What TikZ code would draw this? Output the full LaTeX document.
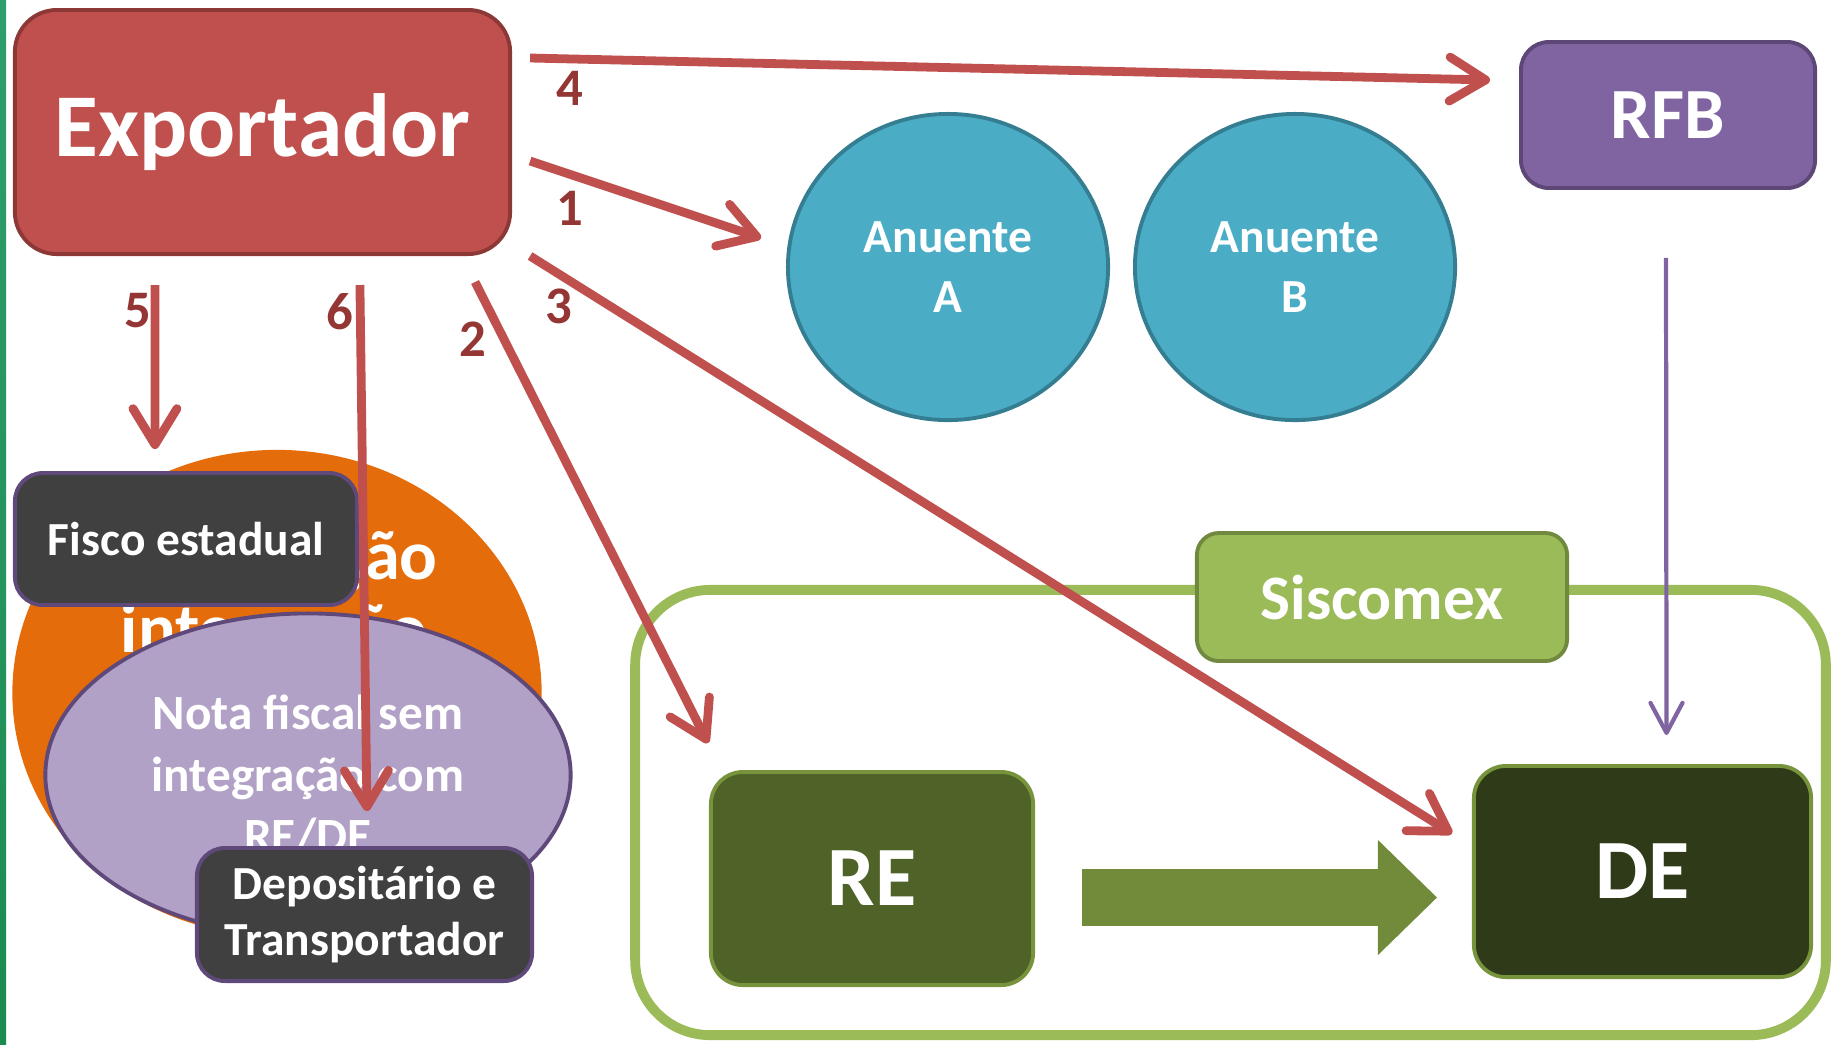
\documentclass[tikz,border=0pt]{standalone}
\usepackage{fontspec}
\setmainfont{Carlito}
\usepackage{xcolor}
\usepackage{tikz}
\usetikzlibrary{shapes.geometric,positioning,arrows.meta}

\definecolor{expred}{HTML}{C0504D}
\definecolor{expborder}{HTML}{8C3836}
\definecolor{numred}{HTML}{943634}
\definecolor{rfbpurple}{HTML}{8064A2}
\definecolor{rfbborder}{HTML}{5C4776}
\definecolor{anuteal}{HTML}{4BACC6}
\definecolor{anuborder}{HTML}{357D91}
\definecolor{siscgreen}{HTML}{9BBB59}
\definecolor{siscborder}{HTML}{71893F}
\definecolor{regreen}{HTML}{4F6228}
\definecolor{degreen}{HTML}{2F3A19}
\definecolor{boxborder}{HTML}{77933C}
\definecolor{fatgreen}{HTML}{718B3B}
\definecolor{nforange}{HTML}{E46C0A}
\definecolor{nflilac}{HTML}{B2A1C7}
\definecolor{nfborder}{HTML}{5F497A}
\definecolor{darkbox}{HTML}{404040}
\definecolor{stripetop}{HTML}{2E9E6C}
\definecolor{stripemid}{HTML}{D8BA4C}
\definecolor{stripebot}{HTML}{1B8C50}

\begin{document}
\begin{tikzpicture}[
    x=0.01cm, y=-0.01cm,
    box/.style={rectangle, rounded corners=#1, draw, line width=1.1pt, text=white, align=center, inner sep=0pt},
    box/.default=0.3cm,
    oval/.style={ellipse, draw, line width=1.1pt, text=white, align=center, inner sep=0pt},
    redarrow/.style={draw=expred, line width=2.5pt, -{Straight Barb[length=3.6mm, width=4.4mm, round]}},
    purplearrow/.style={draw=rfbpurple, line width=1.2pt, -{Straight Barb[length=3mm, width=3.2mm, round]}},
    fatarrow/.style={draw=fatgreen, line width=0.57cm, -{Triangle[length=0.59cm, width=1.15cm, line width=0pt]}},
    numlabel/.style={text=numred, font=\bfseries\fontsize{15}{18}\selectfont}
]
    \useasboundingbox (0,0) rectangle (1834,1044);
    \shade[top color=stripetop, middle color=stripemid, bottom color=stripebot] (0,0) rectangle (6,1044);

    % Siscomex
    \node[box=0.75cm, draw=siscgreen, line width=2.8pt, minimum width=11.9cm, minimum height=4.45cm] (siscomex) at (1230.5,812.5) {};
    \node[box=0.22cm, fill=siscgreen, draw=siscborder, minimum width=3.7cm, minimum height=1.28cm,
          font=\bfseries\fontsize{18}{22}\selectfont] (siscomexlabel) at (1382,597) {Siscomex};
    \node[box=0.32cm, fill=regreen, draw=boxborder, minimum width=3.22cm, minimum height=2.13cm,
          font=\bfseries\fontsize{24}{28}\selectfont] (re) at (872,878.5) {RE};
    \node[box=0.32cm, fill=degreen, draw=boxborder, minimum width=3.37cm, minimum height=2.11cm,
          font=\bfseries\fontsize{24}{28}\selectfont] (de) at (1642.5,871.5) {DE};
    \draw[fatarrow] ([shift={(47,19)}]re.east) -- ([shift={(-35,26)}]de.west);

    % orgaos
    \node[oval, fill=anuteal, draw=anuborder, minimum width=3.2cm, minimum height=3.06cm,
          font=\bfseries\fontsize{13.5}{17}\selectfont] (anuenteA) at (948,267) {Anuente\\A};
    \node[oval, fill=anuteal, draw=anuborder, minimum width=3.2cm, minimum height=3.06cm,
          font=\bfseries\fontsize{13.5}{17}\selectfont] (anuenteB) at (1295,267) {Anuente\\B};
    \node[box=0.28cm, fill=rfbpurple, draw=rfbborder, minimum width=2.94cm, minimum height=1.46cm,
          font=\bfseries\fontsize{20.5}{24}\selectfont] (rfb) at (1668,115) {RFB};
    \node[box=0.42cm, fill=expred, draw=expborder, minimum width=4.95cm, minimum height=2.44cm,
          font=\bfseries\fontsize{25.5}{30}\selectfont] (exportador) at (262.5,132) {Exportador};

    % nota fiscal
    \node[ellipse, fill=nforange, inner sep=0pt, minimum width=5.29cm, minimum height=4.86cm] (nfcom) at (277,693) {};
    \node[text=white, align=center, font=\bfseries\fontsize{20}{20.7}\selectfont] (nfcomtext) at (274,598) {Exportação\\integração};
    \node[box=0.28cm, fill=darkbox, draw=nfborder, minimum width=3.42cm, minimum height=1.32cm,
          font=\bfseries\fontsize{13.5}{16}\selectfont] (fisco) at (186,539) {Fisco estadual};
    \node[oval, fill=nflilac, draw=nfborder, minimum width=5.25cm, minimum height=3.23cm,
          font=\bfseries\fontsize{14}{17.5}\selectfont] (nfsem) at (308,775) {Nota fiscal sem\\integração com\\RE/DE};
    \node[box=0.28cm, fill=darkbox, draw=nfborder, minimum width=3.35cm, minimum height=1.33cm,
          font=\bfseries\fontsize{13.5}{16}\selectfont] (deposit) at (364.5,914.5) {Depositário e\\Transportador};

    % fluxos
    \coordinate (s4) at ([shift={(18,-74)}]exportador.east);
    \coordinate (e4) at ([shift={(-29,-35)}]rfb.west);
    \coordinate (s1) at ([shift={(18,29)}]exportador.east);
    \coordinate (e1) at ([shift={(-25,-29)}]anuenteA.west);
    \coordinate (s3) at ([shift={(18,0)}]exportador.south east);
    \coordinate (e3) at ([shift={(-20,-38)}]de.west);
    \coordinate (s2) at ([shift={(-37,26)}]exportador.south east);
    \coordinate (e2) at ([shift={(-1,-27)}]re.north west);
    \coordinate (s5) at ([shift={(142,29)}]exportador.south west);
    \coordinate (e5) at ([shift={(142,-22)}]fisco.north west);
    \coordinate (s6) at ([shift={(347,29)}]exportador.south west);
    \coordinate (e6) at ([shift={(59,36)}]nfsem.center);

    \foreach \from/\to in {s4/e4, s1/e1, s3/e3, s2/e2, s5/e5, s6/e6}
        \draw[redarrow] (\from) -- (\to);
    \draw[purplearrow] ([shift={(-2,68)}]rfb.south) -- ([shift={(24,-29)}]de.north);

    \foreach \n/\x/\y in {4/570/88, 1/570/208, 3/559/306, 2/473/339, 5/138/311, 6/340/312}
        \node[numlabel] (l\n) at (\x,\y) {\n};
\end{tikzpicture}
\end{document}
